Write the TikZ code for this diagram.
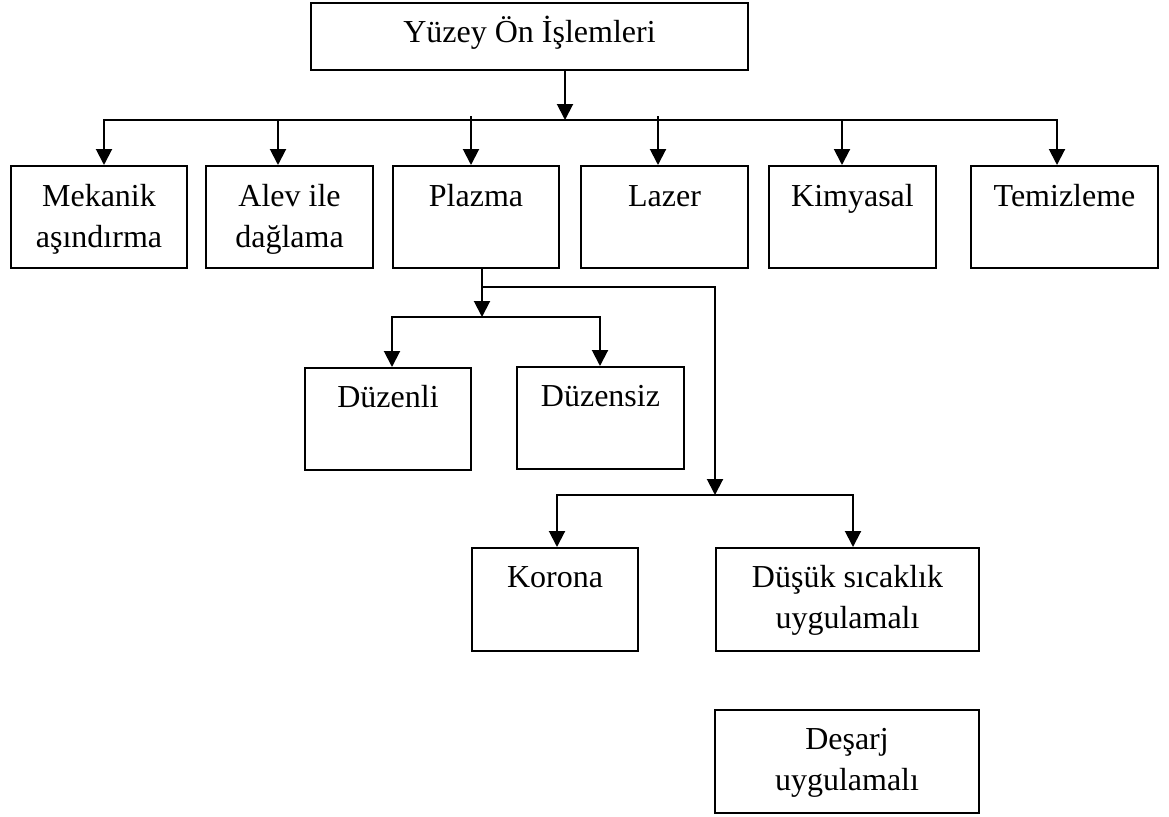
\documentclass[tikz,border=0pt]{standalone}
\usepackage{fontspec}
\setmainfont{Liberation Serif}
\usetikzlibrary{arrows.meta,calc}
\begin{document}
\begin{tikzpicture}[x=1pt,y=-1pt,
  box/.style={draw,line width=2pt,rectangle,inner sep=0pt,anchor=north west},
  lbl/.style={anchor=base,inner sep=0pt,font=\fontsize{32}{41}\selectfont},
  conn/.style={line width=2pt},
  arr/.style={line width=2pt,-{Triangle[width=16pt,length=16pt]}}]
\useasboundingbox (0,0) rectangle (1169,816);

% boxes
\node[box,minimum width=437pt,minimum height=67pt] (top) at (310,2) {};
\node[box,minimum width=176pt,minimum height=102pt] (mek) at (10,165) {};
\node[box,minimum width=167pt,minimum height=102pt] (alev) at (205,165) {};
\node[box,minimum width=166pt,minimum height=102pt] (plz) at (392,165) {};
\node[box,minimum width=167pt,minimum height=102pt] (laz) at (580,165) {};
\node[box,minimum width=167pt,minimum height=102pt] (kim) at (768,165) {};
\node[box,minimum width=187pt,minimum height=102pt] (tem) at (970,165) {};
\node[box,minimum width=166pt,minimum height=102pt] (duz) at (304,367) {};
\node[box,minimum width=167pt,minimum height=102pt] (dsz) at (516,366) {};
\node[box,minimum width=166pt,minimum height=103pt] (kor) at (471,547) {};
\node[box,minimum width=263pt,minimum height=103pt] (dus) at (715,547) {};
\node[box,minimum width=264pt,minimum height=103pt] (des) at (714,709) {};

% texts
\node[lbl] (ttop) at ($(top.north)+(0,41)$) {Yüzey Ön İşlemleri};
\node[lbl] (tmek1) at ($(mek.north)+(0,41)$) {Mekanik};
\node[lbl] (tmek2) at ($(mek.north)+(0,82)$) {aşındırma};
\node[lbl] (talev1) at ($(alev.north)+(0,41)$) {Alev ile};
\node[lbl] (talev2) at ($(alev.north)+(0,82)$) {dağlama};
\node[lbl] (tplz) at ($(plz.north)+(0,41)$) {Plazma};
\node[lbl] (tlaz) at ($(laz.north)+(0,41)$) {Lazer};
\node[lbl] (tkim) at ($(kim.north)+(0,41)$) {Kimyasal};
\node[lbl] (ttem) at ($(tem.north)+(0,41)$) {Temizleme};
\node[lbl] (tduz) at ($(duz.north)+(0,40)$) {Düzenli};
\node[lbl] (tdsz) at ($(dsz.north)+(0,40)$) {Düzensiz};
\node[lbl] (tkor) at ($(kor.north)+(0,40)$) {Korona};
\node[lbl] (tdus1) at ($(dus.north)+(0,40)$) {Düşük sıcaklık};
\node[lbl] (tdus2) at ($(dus.north)+(0,81)$) {uygulamalı};
\node[lbl] (tdes1) at ($(des.north)+(0,40)$) {Deşarj};
\node[lbl] (tdes2) at ($(des.north)+(0,81)$) {uygulamalı};

% top level connectors
\coordinate (b0) at (565,120);
\coordinate (dmek) at (104,120);
\coordinate (dalev) at (278,120);
\coordinate (dplz) at (471,116);
\coordinate (dlaz) at (658,116);
\coordinate (dkim) at (842,120);
\coordinate (dtem) at (1057,120);
\draw[arr] (top.south -| b0) -- (b0);
\draw[arr] (b0) -- (dmek) -- (dmek |- mek.north);
\draw[arr] (b0) -- (dtem) -- (dtem |- tem.north);
\draw[arr] (dalev) -- (dalev |- alev.north);
\draw[arr] (dplz) -- (dplz |- plz.north);
\draw[arr] (dlaz) -- (dlaz |- laz.north);
\draw[arr] (dkim) -- (dkim |- kim.north);

% plazma branch
\coordinate (p1) at (482,287);
\coordinate (p2) at (715,287);
\coordinate (p3) at (715,495);
\draw[arr] (plz.south -| p1) -- (p1) -- (p2) -- (p3);
\coordinate (q0) at (482,317);
\coordinate (ql) at (392,317);
\coordinate (qr) at (600,317);
\draw[arr] (p1) -- (q0);
\draw[arr] (q0) -- (ql) -- (ql |- duz.north);
\draw[arr] (q0) -- (qr) -- (qr |- dsz.north);

% korona / dusuk branch
\coordinate (kl) at (557,495);
\coordinate (kr) at (853,495);
\draw[arr] (p3) -- (kl) -- (kl |- kor.north);
\draw[arr] (p3) -- (kr) -- (kr |- dus.north);
\end{tikzpicture}
\end{document}
